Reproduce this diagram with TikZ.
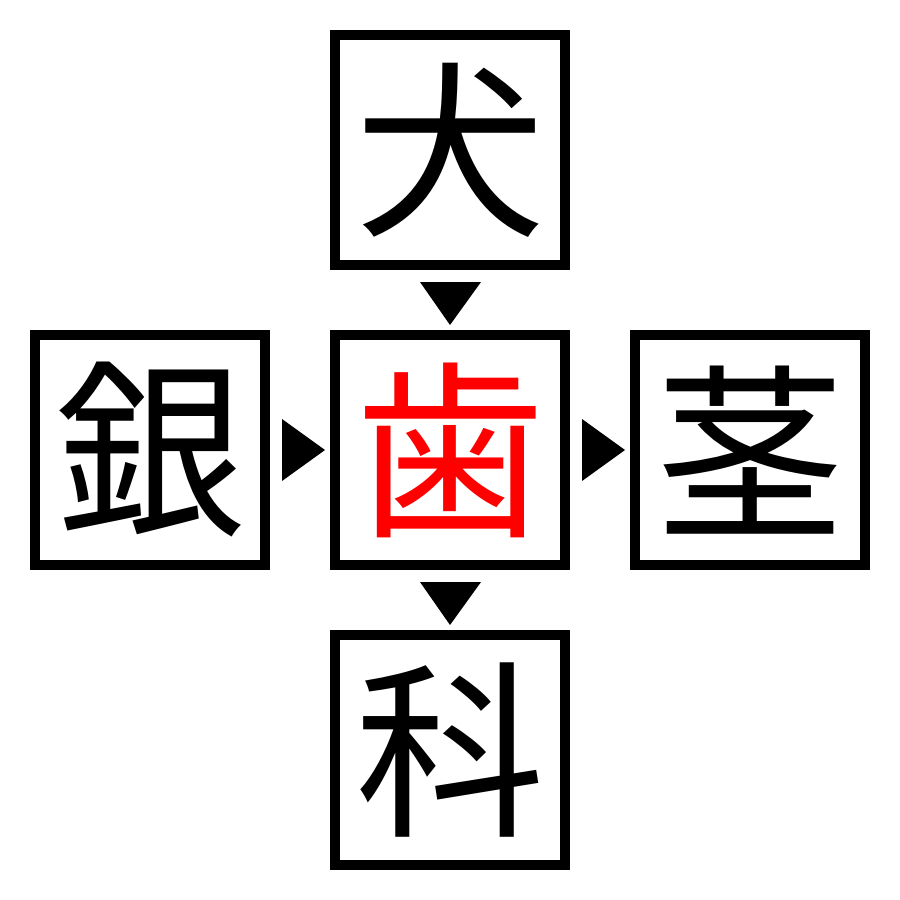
\documentclass[tikz,border=0pt]{standalone}
\usepackage{fontspec}
\newfontfamily\cjk{Noto Sans CJK JP}
\definecolor{kred}{RGB}{255,0,0}
\begin{document}
\begin{tikzpicture}[x=0.01cm,y=-0.01cm,
  kbox/.style={draw=black,line width=0.1cm,minimum size=2.3cm,inner sep=0pt,font=\cjk\fontsize{54}{54}\selectfont},
  tri/.style={fill=black}]
\useasboundingbox (0,0) rectangle (900,900);
\node[kbox] (top) at (450,150) {犬};
\node[kbox] (left) at (150,450) {銀};
\node[kbox,text=kred] (mid) at (450,450) {歯};
\node[kbox] (right) at (750,450) {茎};
\node[kbox] (bot) at (450,750) {科};
\fill[tri] (420,282) -- (481,282) -- (450,325) -- cycle;
\fill[tri] (420,582) -- (481,582) -- (450,625) -- cycle;
\fill[tri] (282,419) -- (282,481) -- (325,450) -- cycle;
\fill[tri] (582,419) -- (582,481) -- (625,450) -- cycle;
\end{tikzpicture}
\end{document}
